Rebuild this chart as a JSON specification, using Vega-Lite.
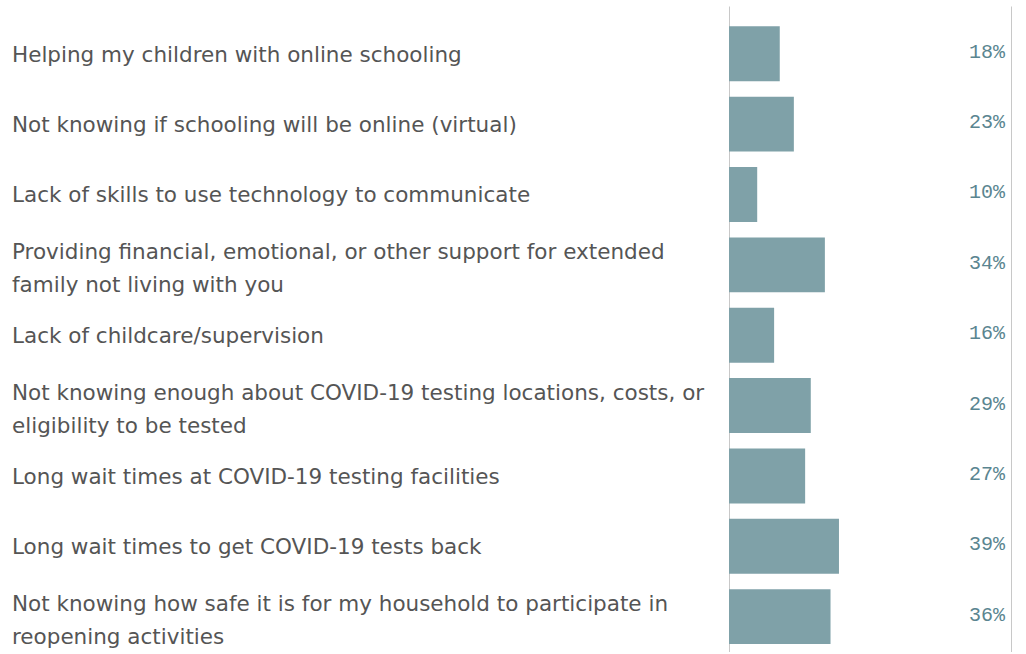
{
  "$schema": "https://vega.github.io/schema/vega-lite/v6.json",
  "padding": {"top": 6, "left": 0, "right": 14, "bottom": 0},
  "spacing": 0,
  "config": {"view": {"stroke": null}, "concat": {"spacing": 0}},
  "data": {"values": [
    {"order": 1, "lines": 1, "label": "Helping my children with online schooling", "value": 0.18},
    {"order": 2, "lines": 1, "label": "Not knowing if schooling will be online (virtual)", "value": 0.23},
    {"order": 3, "lines": 1, "label": "Lack of skills to use technology to communicate", "value": 0.10},
    {"order": 4, "lines": 2, "label": "Providing financial, emotional, or other support for extended|family not living with you", "value": 0.34},
    {"order": 5, "lines": 1, "label": "Lack of childcare/supervision", "value": 0.16},
    {"order": 6, "lines": 2, "label": "Not knowing enough about COVID-19 testing locations, costs, or|eligibility to be tested", "value": 0.29},
    {"order": 7, "lines": 1, "label": "Long wait times at COVID-19 testing facilities", "value": 0.27},
    {"order": 8, "lines": 1, "label": "Long wait times to get COVID-19 tests back", "value": 0.39},
    {"order": 9, "lines": 2, "label": "Not knowing how safe it is for my household to participate in|reopening activities", "value": 0.36}
  ]},
  "hconcat": [
    {
      "width": 729,
      "height": 646,
      "encoding": {
        "y": {"field": "label", "type": "nominal", "sort": {"field": "order"}, "axis": null,
              "scale": {"type": "band", "paddingInner": 0.22, "paddingOuter": 0.2, "align": 0.72}},
        "x": {"datum": 0, "type": "quantitative", "scale": {"domain": [0, 1]},
              "axis": {"title": null, "labels": false, "ticks": false, "grid": false, "domain": true, "domainColor": "#c8c8c8", "domainWidth": 1}},
        "text": {"field": "label"}
      },
      "layer": [
        {
          "transform": [{"filter": "datum.lines == 1"}],
          "mark": {"type": "text", "align": "left", "baseline": "middle", "dx": 12, "dy": 2, "font": "DejaVu Sans", "fontSize": 21.5, "color": "#555555", "lineBreak": "|", "lineHeight": 33}
        },
        {
          "transform": [{"filter": "datum.lines == 2"}],
          "mark": {"type": "text", "align": "left", "baseline": "middle", "dx": 12, "dy": -12, "font": "DejaVu Sans", "fontSize": 21.5, "color": "#555555", "lineBreak": "|", "lineHeight": 33}
        }
      ]
    },
    {
      "width": 282,
      "height": 646,
      "encoding": {
        "y": {"field": "label", "type": "nominal", "sort": {"field": "order"}, "axis": null,
              "scale": {"type": "band", "paddingInner": 0.22, "paddingOuter": 0.2, "align": 0.72}}
      },
      "layer": [
        {
          "mark": {"type": "bar", "color": "#7fa1a8"},
          "encoding": {
            "x": {"field": "value", "type": "quantitative", "scale": {"domain": [0, 1]},
                  "axis": {"title": null, "labels": false, "ticks": false, "values": [0, 1], "grid": true, "gridColor": "#c8c8c8", "gridWidth": 1, "domain": true, "domainColor": "#c8c8c8", "domainWidth": 1}}
          }
        },
        {
          "mark": {"type": "text", "align": "right", "baseline": "middle", "dx": -6, "dy": -2, "font": "Liberation Mono", "fontSize": 20, "color": "#5a8590"},
          "encoding": {
            "x": {"datum": 1, "type": "quantitative"},
            "text": {"field": "value", "type": "quantitative", "format": ".0%"}
          }
        }
      ]
    }
  ]
}
